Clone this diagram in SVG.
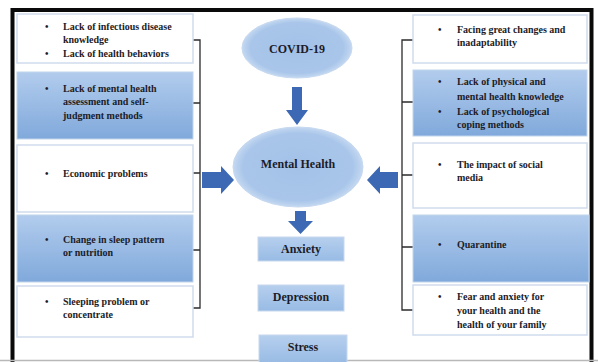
<svg xmlns="http://www.w3.org/2000/svg" width="598" height="362" viewBox="0 0 598 362">
<defs>
<linearGradient id="bg" x1="0" y1="0" x2="0" y2="1">
<stop offset="0" stop-color="#b2cced"/>
<stop offset="1" stop-color="#80a9db"/>
</linearGradient>
<linearGradient id="sb" x1="0" y1="0" x2="0" y2="1">
<stop offset="0" stop-color="#b6cfee"/>
<stop offset="1" stop-color="#98bbe4"/>
</linearGradient>
<radialGradient id="eg" cx="0.5" cy="0.5" r="0.5">
<stop offset="0" stop-color="#a3c1e7"/>
<stop offset="0.85" stop-color="#a9c6ea"/>
<stop offset="1" stop-color="#c4d8f1"/>
</radialGradient>
</defs>
<style>
.t{font-family:"Liberation Serif","Times New Roman",serif;font-weight:bold;font-size:10px;fill:#1c1c28}
.c{font-family:"Liberation Serif","Times New Roman",serif;font-weight:bold;font-size:12px;fill:#1c1c28;text-anchor:middle}
.w{fill:#ffffff;stroke:#cfdcec;stroke-width:1.5}
.b{fill:url(#bg);stroke:#c2d5ec;stroke-width:1}
.s{fill:url(#sb);stroke:#c7d8ee;stroke-width:1}
.e{fill:url(#eg);stroke:#c6d9f0;stroke-width:1}
.br{fill:none;stroke:#2b2b2b;stroke-width:1.3}
.ar{fill:#3c68b4}
</style>
<rect x="0" y="0" width="598" height="362" fill="#ffffff"/>
<rect x="12.5" y="10" width="579" height="360" fill="none" stroke="#0a0a0a" stroke-width="4"/>
<line x1="0" y1="360.5" x2="598" y2="360.5" stroke="#b8b8b8" stroke-width="1.5"/>

<g id="connectors">
<path class="br" d="M192 40H200V308H192M192 103H200M192 173H200M192 250H200"/>
<path class="br" d="M413 40H402V310H413M413 102H402M413 175H402M413 247H402"/>
<polygon class="ar" points="292,87 302,87 302,110 308,110 297,125 286,110 292,110"/>
<polygon class="ar" points="295,211 306,211 306,221 313,221 300.5,234 288,221 295,221"/>
<polygon class="ar" points="202,172 221,172 221,166 234,180 221,194 221,188 202,188"/>
<polygon class="ar" points="398,172 380,172 380,166 367,180 380,194 380,188 398,188"/>
</g>

<g id="left1"><rect class="w" x="17" y="14" width="176" height="49"/>
<text class="t" x="45" y="30">•</text><text class="t" x="63" y="30">Lack of infectious disease</text>
<text class="t" x="63" y="43">knowledge</text>
<text class="t" x="45" y="57">•</text><text class="t" x="63" y="57">Lack of health behaviors</text></g>
<g id="left2"><rect class="b" x="17" y="72" width="176" height="67"/>
<text class="t" x="45" y="92">•</text><text class="t" x="63" y="92">Lack of mental health</text>
<text class="t" x="63" y="105">assessment and self-</text>
<text class="t" x="63" y="119">judgment methods</text></g>
<g id="left3"><rect class="w" x="17" y="145" width="176" height="67"/>
<text class="t" x="45" y="177">•</text><text class="t" x="63" y="177">Economic problems</text></g>
<g id="left4"><rect class="b" x="17" y="215" width="176" height="67"/>
<text class="t" x="45" y="243">•</text><text class="t" x="63" y="243">Change in sleep pattern</text>
<text class="t" x="63" y="256">or nutrition</text></g>
<g id="left5"><rect class="w" x="17" y="286" width="176" height="51"/>
<text class="t" x="45" y="305">•</text><text class="t" x="63" y="305">Sleeping problem or</text>
<text class="t" x="63" y="318">concentrate</text></g>

<g id="right1"><rect class="w" x="413" y="15" width="174" height="48"/>
<text class="t" x="438" y="33">•</text><text class="t" x="457" y="33">Facing great changes and</text>
<text class="t" x="457" y="46">inadaptability</text></g>
<g id="right2"><rect class="b" x="413" y="70" width="174" height="66"/>
<text class="t" x="438" y="85">•</text><text class="t" x="457" y="85">Lack of physical and</text>
<text class="t" x="457" y="100">mental health knowledge</text>
<text class="t" x="438" y="115">•</text><text class="t" x="457" y="115">Lack of psychological</text>
<text class="t" x="457" y="128">coping methods</text></g>
<g id="right3"><rect class="w" x="413" y="143" width="174" height="65"/>
<text class="t" x="438" y="168">•</text><text class="t" x="457" y="168">The impact of social</text>
<text class="t" x="457" y="181">media</text></g>
<g id="right4"><rect class="b" x="413" y="215" width="176" height="67"/>
<text class="t" x="438" y="248">•</text><text class="t" x="457" y="248">Quarantine</text></g>
<g id="right5"><rect class="w" x="413" y="285" width="174" height="50"/>
<text class="t" x="438" y="300">•</text><text class="t" x="457" y="300">Fear and anxiety for</text>
<text class="t" x="457" y="314">your health and the</text>
<text class="t" x="457" y="328">health of your family</text></g>

<g id="covid"><ellipse class="e" cx="297" cy="48" rx="55" ry="30"/>
<text class="c" x="297" y="53">COVID-19</text></g>
<g id="mental-health"><ellipse class="e" cx="298" cy="167" rx="65" ry="40"/>
<text class="c" x="298" y="168">Mental Health</text></g>
<g id="anxiety"><rect class="s" x="258" y="237" width="86" height="24"/>
<text class="c" x="301" y="253">Anxiety</text></g>
<g id="depression"><rect class="s" x="258" y="285" width="86" height="26"/>
<text class="c" x="301" y="301">Depression</text></g>
<g id="stress"><rect class="s" x="259" y="335" width="88" height="28"/>
<text class="c" x="303" y="351">Stress</text></g>
</svg>
